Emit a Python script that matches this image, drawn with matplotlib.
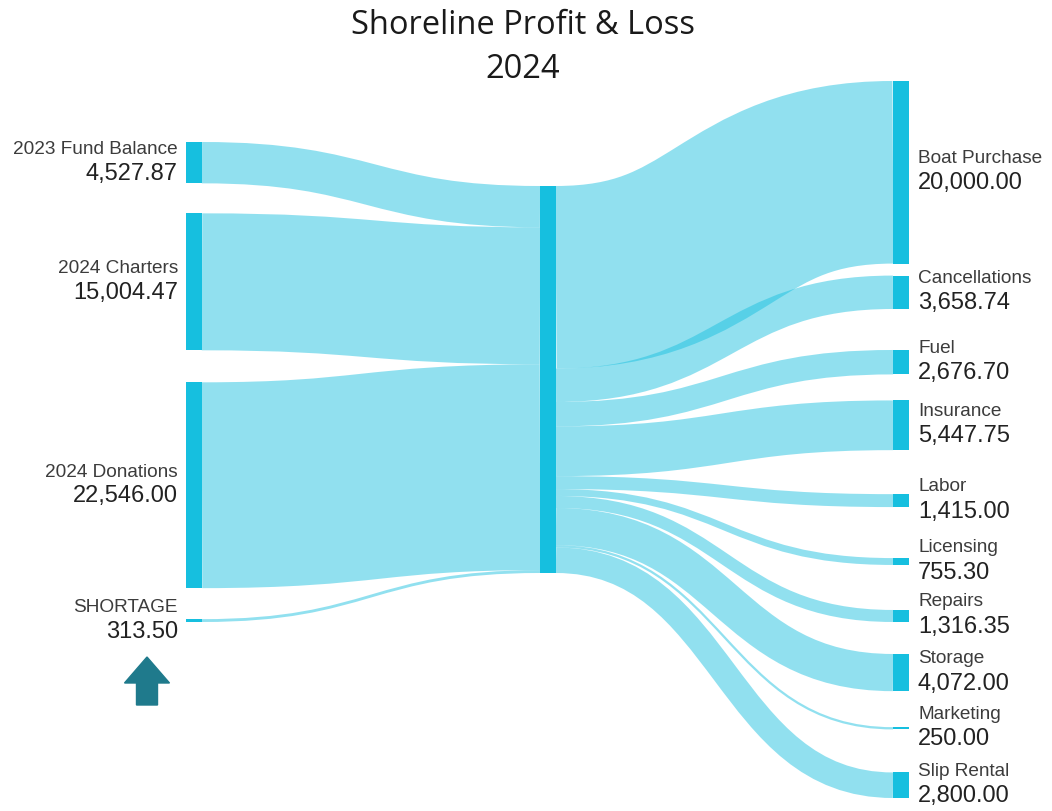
import matplotlib
matplotlib.use('Agg')
import matplotlib.pyplot as plt
from matplotlib.path import Path
from matplotlib.patches import PathPatch, FancyArrow, Rectangle

# data
sources = ['2023 Fund Balance', '2024 Charters', '2024 Donations', 'SHORTAGE']
source_values = [4527.87, 15004.47, 22546.00, 313.50]

expenses = ['Boat Purchase', 'Cancellations', 'Fuel', 'Insurance', 'Labor',
            'Licensing', 'Repairs', 'Storage', 'Marketing', 'Slip Rental']
expense_values = [20000.00, 3658.74, 2676.70, 5447.75, 1415.00,
                  755.30, 1316.35, 4072.00, 250.00, 2800.00]

title_lines = ['Shoreline Profit & Loss', '2024']

# layout (pixels)
W, H, DPI = 1052, 811, 100
NODE_W = 16
X_LEFT, X_MID, X_RIGHT = 186, 540, 893
MID_TOP, MID_HEIGHT = 186, 387
LEFT_TOP, LEFT_GAPS = 142, [30, 32, 31]
RIGHT_TOP, RIGHT_GAPS = 81, [12, 41, 26, 44, 51, 45, 32, 36, 43]
NODE_COLOR = '#16BFDF'
LINK_ALPHA = 0.47
NAME_COLOR = '#3c3c3c'
VALUE_COLOR = '#222222'
LABEL_FONT = ['Liberation Sans', 'DejaVu Sans']


def stack(values, top, gaps, scale):
    spans = []
    y = top
    for i, v in enumerate(values):
        h = v * scale
        spans.append((y, y + h))
        y += h + (gaps[i] if i < len(gaps) else 0)
    return spans


def draw_node(ax, x, span):
    ax.add_patch(Rectangle((x, span[0]), NODE_W, span[1] - span[0],
                           facecolor=NODE_COLOR, edgecolor='none', zorder=3))


def draw_link(ax, x0, span0, x1, span1):
    y0 = (span0[0] + span0[1]) / 2
    y1 = (span1[0] + span1[1]) / 2
    width = span0[1] - span0[0]
    xm = (x0 + x1) / 2
    path = Path([(x0, y0), (xm, y0), (xm, y1), (x1, y1)],
                [Path.MOVETO, Path.CURVE4, Path.CURVE4, Path.CURVE4])
    ax.add_patch(PathPatch(path, facecolor='none', edgecolor=NODE_COLOR,
                           alpha=LINK_ALPHA, lw=width * 72 / DPI,
                           capstyle='butt', zorder=1))


def draw_label(ax, x, span, name, value, ha, name_dy, value_dy):
    c = (span[0] + span[1]) / 2
    ax.text(x, c + name_dy, name, ha=ha, va='center', fontsize=13.7,
            color=NAME_COLOR, family=LABEL_FONT)
    ax.text(x, c + value_dy, f'{value:,.2f}', ha=ha, va='center', fontsize=17,
            color=VALUE_COLOR, family=LABEL_FONT)


fig = plt.figure(figsize=(W / DPI, H / DPI), dpi=DPI)
ax = fig.add_axes([0, 0, 1, 1])
ax.set_xlim(0, W)
ax.set_ylim(H, 0)
ax.axis('off')

scale = MID_HEIGHT / sum(source_values)
left_spans = stack(source_values, LEFT_TOP, LEFT_GAPS, scale)
right_spans = stack(expense_values, RIGHT_TOP, RIGHT_GAPS, scale)
mid_in = stack(source_values, MID_TOP, [0] * len(source_values), scale)
mid_out = stack(expense_values, MID_TOP, [0] * len(expense_values), scale)

for s, m in zip(left_spans, mid_in):
    draw_link(ax, X_LEFT + NODE_W, s, X_MID, m)
for m, s in zip(mid_out, right_spans):
    draw_link(ax, X_MID + NODE_W, m, X_RIGHT, s)

for s in left_spans:
    draw_node(ax, X_LEFT, s)
for s in right_spans:
    draw_node(ax, X_RIGHT, s)
draw_node(ax, X_MID, (MID_TOP, MID_TOP + MID_HEIGHT))

for name, v, s in zip(sources, source_values, left_spans):
    draw_label(ax, X_LEFT - 8, s, name, v, 'right', -13, 11)
for name, v, s in zip(expenses, expense_values, right_spans):
    draw_label(ax, X_RIGHT + NODE_W + 9, s, name, v, 'left', -14, 11)

ax.text(523, 26, title_lines[0], ha='center', va='center', fontsize=23.5,
        family=['Open Sans', 'DejaVu Sans'], color='#1a1a1a')
ax.text(523, 69, title_lines[1], ha='center', va='center', fontsize=23.5,
        family=['Open Sans', 'DejaVu Sans'], color='#1a1a1a')

# marker arrow under the shortage
ax.add_patch(FancyArrow(147, 705, 0, -48, width=21, head_width=45, head_length=26,
                        length_includes_head=True, color='#1F7A8C', zorder=3))

fig.savefig('out.png', dpi=DPI)
